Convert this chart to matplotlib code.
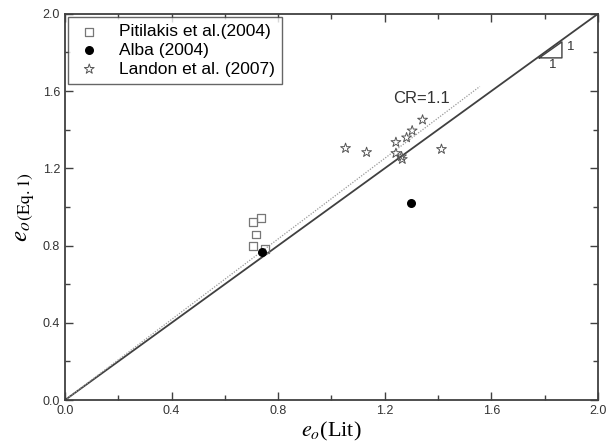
import numpy as np
import matplotlib
matplotlib.use('Agg')
import matplotlib.pyplot as plt
from matplotlib.ticker import MultipleLocator

# ------------------------------------------------------------------------------
# Data
# ------------------------------------------------------------------------------
pit_x = [0.705, 0.735, 0.717, 0.705, 0.750]
pit_y = [0.922, 0.943, 0.858, 0.797, 0.783]

alba_x = [0.740, 1.300]
alba_y = [0.768, 1.020]

lan_x = [1.053, 1.132, 1.242, 1.282, 1.303, 1.342, 1.242, 1.263, 1.266, 1.413]
lan_y = [1.304, 1.283, 1.335, 1.359, 1.395, 1.451, 1.278, 1.261, 1.247, 1.299]

# 1:1 line and CR=1.1 line
line_x = [0.0, 2.0]
line_y = [0.0, 2.0]
cr_x = [0.0, 1.557]
cr_y = [0.0, 1.624]

# slope triangle
tri_x = [1.780, 1.865, 1.865, 1.780]
tri_y = [1.772, 1.772, 1.855, 1.772]

plt.rcParams['font.family'] = ['Liberation Sans', 'DejaVu Sans']
plt.rcParams['mathtext.fontset'] = 'stix'

fig = plt.figure(figsize=(6.07, 4.47), dpi=100)
ax = fig.add_axes([0.107, 0.105, 0.878, 0.864])

gray = '#404040'
ax.plot(line_x, line_y, color=gray, lw=1.3, zorder=2)
ax.plot(cr_x, cr_y, color='#999999', lw=0.9, ls=(0, (1, 1.2)), zorder=2)
ax.plot(tri_x, tri_y, color=gray, lw=1.0)

ax.scatter(pit_x, pit_y, marker='s', s=30, facecolors='none',
           edgecolors='#777777', linewidths=0.9, label='Pitilakis et al.(2004)',
           zorder=3)
ax.scatter(alba_x, alba_y, marker='o', s=30, color='black',
           label='Alba (2004)', zorder=4)
ax.scatter(lan_x, lan_y, marker='*', s=55, facecolors='none',
           edgecolors='#555555', linewidths=0.7, label='Landon et al. (2007)',
           zorder=3)

ax.text(1.23, 1.56, 'CR=1.1', fontsize=12, color='#333333', va='center')
ax.text(1.885, 1.83, '1', fontsize=9.5, color='#333333', va='center')
ax.text(1.815, 1.735, '1', fontsize=9.5, color='#333333', va='center')

ax.set_xlim(0, 2.0)
ax.set_ylim(0, 2.0)
ax.xaxis.set_major_locator(MultipleLocator(0.4))
ax.xaxis.set_minor_locator(MultipleLocator(0.2))
ax.yaxis.set_major_locator(MultipleLocator(0.4))
ax.yaxis.set_minor_locator(MultipleLocator(0.2))
ax.xaxis.set_major_formatter(matplotlib.ticker.FormatStrFormatter('%.1f'))
ax.yaxis.set_major_formatter(matplotlib.ticker.FormatStrFormatter('%.1f'))
ax.tick_params(which='both', direction='in', top=True, right=True,
               color=gray, labelsize=9, labelcolor='#333333')
ax.tick_params(which='major', length=6, width=1.0)
ax.tick_params(which='minor', length=3.5, width=1.0)
for s in ax.spines.values():
    s.set_color(gray)
    s.set_linewidth(1.3)

ax.set_xlabel(r'$e_o$(Lit)', fontsize=16, family='Liberation Serif',
              labelpad=2)
ax.set_ylabel(r'$e_{o\,\mathrm{(Eq.1)}}$', fontsize=18, labelpad=4)

leg = ax.legend(loc='upper left', fontsize=12.5, frameon=True, fancybox=False,
                edgecolor=gray, borderpad=0.4, handletextpad=0.9,
                labelspacing=0.2, borderaxespad=0.2, handlelength=1.6)
leg.get_frame().set_linewidth(1.0)

fig.savefig('out.png', dpi=100)
